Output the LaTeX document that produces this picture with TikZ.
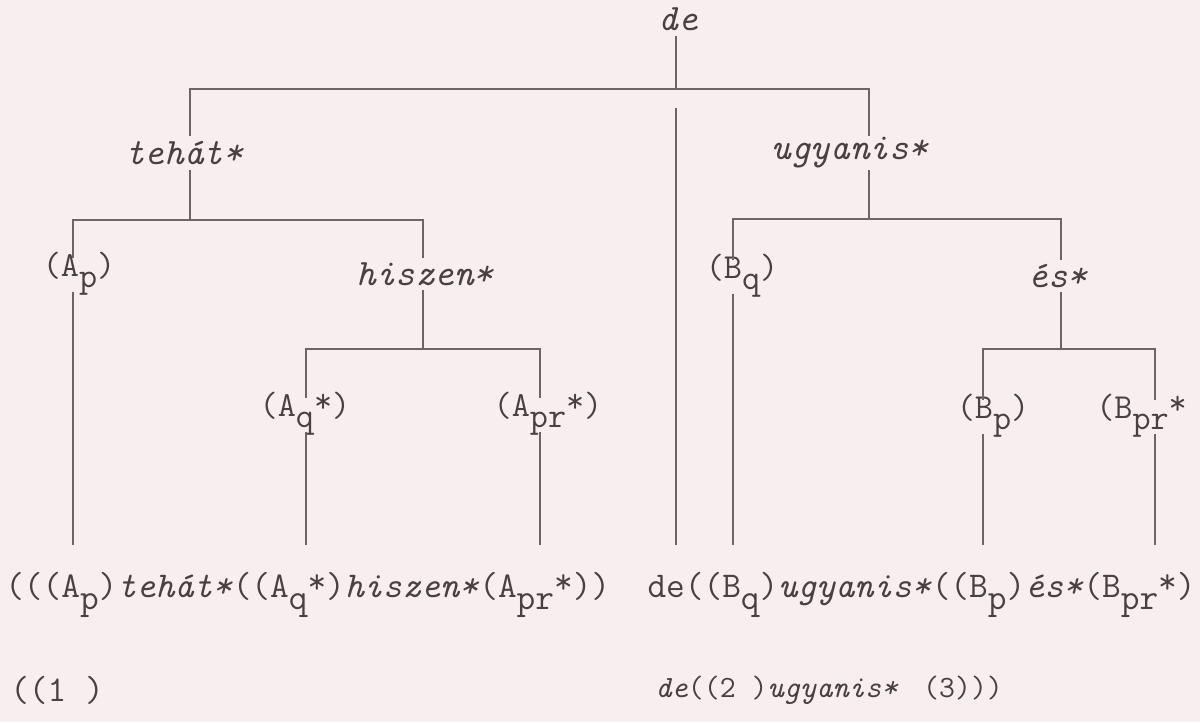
\documentclass[tikz,border=0pt]{standalone}
\usepackage{fontspec}
\definecolor{paper}{HTML}{F7EEF0}
\definecolor{ink}{HTML}{4A4040}
\definecolor{rule}{HTML}{6E6464}
\newcommand{\lo}[1]{\raisebox{-0.32em}{#1}}
\newcommand{\hi}[1]{\raisebox{0.12em}{#1}}
\begin{document}
\begin{tikzpicture}[x=0.025cm,y=-0.025cm,
  every node/.style={font=\ttfamily\fontsize{25}{29}\selectfont, text=ink, inner sep=0pt},
  conn/.style={font=\ttfamily\itshape\fontsize{26.5}{30}\selectfont},
  formula/.style={anchor=west, font=\ttfamily\fontsize{25.8}{30}\selectfont},
  bottom/.style={anchor=west, font=\ttfamily\fontsize{22}{26}\selectfont},
  line/.style={draw=rule, line width=0.8pt}]
\fill[paper] (0,0) rectangle (1200,722);
\useasboundingbox (0,0) rectangle (1200,722);
% labels
\node[conn] (de) at (678,19) {de};
\node[conn] (teh) at (184,153) {tehát*};
\node[conn] (ugy) at (850,153) {ugyanis*};
\node (Ap) at (79,274) {(A\lo{p})};
\node[conn] (his) at (425,274) {hiszen*};
\node (Bq) at (742,276) {(B\lo{q})};
\node[conn] (es) at (1058,276) {és*};
\node (Aq) at (305,414) {(A\lo{q}\hi{*})};
\node (Apr) at (548,414) {(A\lo{pr}\hi{*})};
\node (Bp) at (993,416) {(B\lo{p})};
\node[anchor=west] (Bpr) at (1096,416) {(B\lo{pr}\hi{*}};
% formula
\node[formula] (form) at (5,595) {(((A\lo{p})\textit{tehát*}((A\lo{q}\hi{*})\textit{hiszen*}(A\lo{pr}\hi{*}))\ \ de((B\lo{q})\textit{ugyanis*}((B\lo{p})\textit{és*}(B\lo{pr}\hi{*})};
\node[formula] (one) at (10,690) {((1 )};
\node[bottom] (two) at (655,690) {\textit{de}((2 )\textit{ugyanis*}\hspace{0.8em}(3)))};
% coordinates
\coordinate (deA) at (676,36);
\coordinate (deB) at (676,89);
\coordinate (hL) at (190,89);
\coordinate (hR) at (869,89);
\coordinate (tehT) at (190,136);
\coordinate (ugyT) at (869,136);
\coordinate (cTop) at (676,108);
\coordinate (cBot) at (676,545);
\coordinate (tehB) at (190,170);
\coordinate (tM) at (190,220);
\coordinate (tL) at (73,220);
\coordinate (tR) at (423,220);
\coordinate (ApT) at (73,258);
\coordinate (ApB) at (73,292);
\coordinate (ApE) at (73,545);
\coordinate (hisT) at (423,258);
\coordinate (hisB) at (423,290);
\coordinate (hisM) at (423,349);
\coordinate (sL) at (306,349);
\coordinate (sR) at (540,349);
\coordinate (AqT) at (306,398);
\coordinate (AqB) at (306,432);
\coordinate (AqE) at (306,545);
\coordinate (AprT) at (540,398);
\coordinate (AprB) at (540,432);
\coordinate (AprE) at (540,545);
\coordinate (ugyB) at (869,170);
\coordinate (uM) at (869,219);
\coordinate (uL) at (733,219);
\coordinate (uR) at (1061,219);
\coordinate (BqT) at (733,260);
\coordinate (BqB) at (733,294);
\coordinate (BqE) at (733,545);
\coordinate (esT) at (1061,260);
\coordinate (esB) at (1061,292);
\coordinate (esM) at (1061,349);
\coordinate (eL) at (983,349);
\coordinate (eR) at (1155,349);
\coordinate (BpT) at (983,400);
\coordinate (BpB) at (983,434);
\coordinate (BpE) at (983,545);
\coordinate (BprT) at (1155,400);
\coordinate (BprB) at (1155,434);
\coordinate (BprE) at (1155,545);
% tree lines
\draw[line] (deA) -- (deB);
\draw[line] (tehT) -- (hL) -- (hR) -- (ugyT);
\draw[line] (cTop) -- (cBot);
\draw[line] (tehB) -- (tM);
\draw[line] (ApT) -- (tL) -- (tR) -- (hisT);
\draw[line] (ApB) -- (ApE);
\draw[line] (hisB) -- (hisM);
\draw[line] (AqT) -- (sL) -- (sR) -- (AprT);
\draw[line] (AqB) -- (AqE);
\draw[line] (AprB) -- (AprE);
\draw[line] (ugyB) -- (uM);
\draw[line] (BqT) -- (uL) -- (uR) -- (esT);
\draw[line] (BqB) -- (BqE);
\draw[line] (esB) -- (esM);
\draw[line] (BpT) -- (eL) -- (eR) -- (BprT);
\draw[line] (BpB) -- (BpE);
\draw[line] (BprB) -- (BprE);
\end{tikzpicture}
\end{document}
